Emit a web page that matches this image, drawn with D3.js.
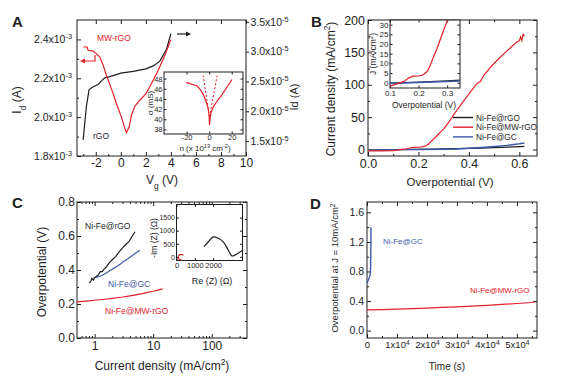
<!DOCTYPE html>
<html>
<head>
<meta charset="utf-8">
<script src="https://cdn.jsdelivr.net/npm/d3@7"></script>
<style>
  body { margin: 0; background: #fff; }
</style>
</head>
<body>
<div id="fig"></div>
<script>
// ---- A: drain current vs gate voltage (rGO on right axis, MW-rGO on left axis)
var aVgRgo = [-3.01, -2.88, -2.75, -2.54, -2.21, -1.81, -1.55, -1.28, -0.88, 0, 0.99, 2.0, 2.59, 3.12, 3.65, 4.0];
var aIdRgo = [1.52e-5, 1.80e-5, 2.08e-5, 2.36e-5, 2.41e-5, 2.45e-5, 2.51e-5, 2.56e-5, 2.58e-5, 2.64e-5, 2.67e-5, 2.71e-5, 2.76e-5, 2.84e-5, 3.04e-5, 3.30e-5];
var aVgMw = [-3.01, -2.69, -2.61, -2.21, -1.95, -1.68, -1.41, -1.15, -0.75, -0.35, 0.05, 0.32, 0.45, 0.67, 0.85, 1.12, 1.52, 2.0, 2.45, 2.99, 3.52, 4.0];
var aIdMw = [2.361e-3, 2.361e-3, 2.344e-3, 2.34e-3, 2.327e-3, 2.309e-3, 2.267e-3, 2.215e-3, 2.147e-3, 2.07e-3, 2.0e-3, 1.942e-3, 1.92e-3, 1.95e-3, 2.01e-3, 2.056e-3, 2.087e-3, 2.12e-3, 2.173e-3, 2.241e-3, 2.318e-3, 2.399e-3];
var aVgTicks = [-2, 0, 2, 4, 6, 8, 10];
var aLeftTicks = [1.8e-3, 2.0e-3, 2.2e-3, 2.4e-3];
var aRightTicks = [1.5e-5, 2.0e-5, 2.5e-5, 3.0e-5, 3.5e-5];
// A inset: conductivity vs carrier density
var aInN = [-20.4, -18.4, -16.9, -14, -10.9, -8, -5.1, -2.7, -0.9, 0, 0.3, 0.9, 1.5, 3.8, 6.8, 11.3, 15.7, 20.2];
var aInSigma = [47.2, 47.1, 47.0, 46.8, 46.6, 45.9, 44.8, 43.5, 42.2, 40.6, 38.9, 40.2, 41.2, 42.5, 43.5, 44.8, 46.3, 47.8];
var aDashLeftN = [0.2, -5.3], aDashLeftS = [40.5, 48.6];
var aDashRightN = [0.4, 7.1], aDashRightS = [40.5, 48.6];
var aInNTicks = [-20, 0, 20];
var aInSTicks = [38, 40, 42, 44, 46, 48];

// ---- B: polarization curves
var bEtaMw = [0, 0.05, 0.1, 0.13, 0.15, 0.165, 0.18, 0.2, 0.215, 0.23, 0.24, 0.25, 0.265, 0.28, 0.29, 0.3, 0.32, 0.34, 0.37, 0.4, 0.43, 0.445, 0.46, 0.49, 0.52, 0.55, 0.57, 0.59, 0.6, 0.605, 0.61, 0.615, 0.62];
var bJMw = [-2.2, -2.1, -1.7, -0.3, 0.8, 2.4, 3.4, 3.5, 4.0, 5.8, 8.6, 12.5, 17.8, 24, 28, 32, 42, 54, 70, 86, 101, 105, 115, 129, 141, 152, 159, 166, 168, 174, 168, 178, 175];
var bEta = [0, 0.1, 0.2, 0.3, 0.35, 0.4, 0.45, 0.5, 0.55, 0.6, 0.62];
var bJRgo = [-1.0, -0.2, 0.4, 1.0, 1.4, 1.8, 2.3, 2.9, 3.6, 4.5, 4.8];
var bJGc = [-1.2, -0.4, 0.1, 0.6, 1.0, 2.0, 3.2, 4.6, 6.4, 8.8, 10.2];
var bEtaTicks = [0, 0.2, 0.4, 0.6];
var bJTicks = [0, 50, 100, 150, 200];
var bInEtaTicks = [0.1, 0.2, 0.3];
var bInJTicks = [0, 5, 10, 15, 20, 25, 30];
var bNames = ['Ni-Fe@rGO', 'Ni-Fe@MW-rGO', 'Ni-Fe@GC'];

// ---- C: Tafel plots
var cJRgo = [0.8, 0.85, 0.9, 0.95, 1.0, 1.05, 1.15, 1.25, 1.35, 1.45, 1.6, 1.8, 2.0, 2.3, 2.6, 3.0, 3.4, 3.9, 4.4, 4.9];
var cEtaRgo = [0.325, 0.33, 0.35, 0.34, 0.355, 0.36, 0.37, 0.39, 0.39, 0.405, 0.42, 0.445, 0.46, 0.48, 0.505, 0.53, 0.55, 0.57, 0.6, 0.625];
var cJGc = [0.95, 1.2, 1.5, 2.0, 2.5, 3.0, 3.6, 4.2, 5.0, 5.9];
var cEtaGc = [0.353, 0.362, 0.378, 0.405, 0.425, 0.445, 0.463, 0.48, 0.498, 0.516];
var cJMw = [0.5, 0.7, 1, 1.5, 2, 3, 4, 5, 6.5, 8, 10, 12, 14.5];
var cEtaMw = [0.213, 0.217, 0.222, 0.228, 0.233, 0.241, 0.248, 0.254, 0.261, 0.268, 0.275, 0.282, 0.289];
var cJTicks = [1, 10, 100];
var cEtaTicks = [0, 0.2, 0.4, 0.6, 0.8];
// C inset: impedance
var cInReRgo = [1500, 1740, 2010, 2280, 2560, 2830, 3020, 3200, 3600];
var cInImRgo = [390, 575, 760, 710, 560, 250, 35, 70, 250];
var cInReMw = [380, 260, 140, 100, 150, 300];
var cInImMw = [60, 95, 60, -20, -90, -130];
var cInReTicks = [0, 1000, 2000];
var cInImTicks = [0, 500, 1000, 1500];

// ---- D: stability at 10 mA/cm2
var dTGc = [0, 200, 400, 600, 800, 1000, 1100, 1200, 1250, 1300, 1330];
var dEtaGc = [0.64, 0.66, 0.68, 0.70, 0.72, 0.75, 0.78, 0.85, 1.0, 1.2, 1.4];
var dTMw = [0, 5000, 10000, 15000, 20000, 25000, 30000, 35000, 40000, 45000, 50000, 55000, 56000];
var dEtaMw = [0.28, 0.285, 0.29, 0.297, 0.305, 0.313, 0.322, 0.331, 0.342, 0.354, 0.367, 0.38, 0.39];
var dTTicks = [0, 1e4, 2e4, 3e4, 4e4, 5e4];
var dEtaTicks = [0, 0.4, 0.8, 1.2, 1.6];

var FONT = '"Liberation Sans", Arial, Helvetica, sans-serif';
var INK = '#1e1e1e', RED = '#e4202a', BLUE = '#3d5aa9';

var svg = d3.select('#fig').append('svg')
    .attr('width', 574)
    .attr('height', 385)
    .attr('font-family', FONT);

var clipCount = 0;
function clip(x0, y0, x1, y1) {
    var id = 'clip' + (clipCount++);
    svg.append('clipPath').attr('id', id).append('rect')
        .attr('x', x0).attr('y', y0).attr('width', x1 - x0).attr('height', y1 - y0);
    return 'url(#' + id + ')';
}

function frame(x0, y0, x1, y1, fill) {
    svg.append('rect')
        .attr('x', x0).attr('y', y0).attr('width', x1 - x0).attr('height', y1 - y0)
        .attr('fill', fill || 'none').attr('stroke', INK).attr('stroke-width', 1);
}

function axis(fn, scale, vals, size, tx, ty, fmt, fs, pad) {
    var ax = fn(scale).tickValues(vals).tickSize(size).tickPadding(pad == null ? 3 : pad)
        .tickFormat(fmt || function () { return ''; });
    var g = svg.append('g').attr('transform', `translate(${tx},${ty})`).call(ax);
    g.select('.domain').remove();
    g.attr('font-family', FONT).attr('font-size', fs || 10);
    g.selectAll('line').attr('stroke', INK);
    g.selectAll('text').attr('fill', INK);
    return g;
}

// turn "2.4" into "2.4x10^-3"
function sci(g, exp) {
    g.selectAll('text').each(function () {
        var t = d3.select(this);
        var m = t.text();
        if (m === '0') return;
        t.text(null);
        t.append('tspan').text(m + 'x10');
        t.append('tspan').attr('baseline-shift', 'super').attr('font-size', '0.7em').text(exp);
    });
}

function rich(x, y, parts, fs, color, anchor, rot, weight) {
    var t = svg.append('text')
        .attr('transform', `translate(${x},${y})` + (rot ? ' rotate(-90)' : ''))
        .attr('font-size', fs).attr('fill', color || INK)
        .attr('text-anchor', anchor || 'start')
        .attr('font-weight', weight || null);
    parts.forEach(function (p) {
        if (typeof p === 'string') t.append('tspan').text(p);
        else t.append('tspan').attr('baseline-shift', p[1] === 'sup' ? 'super' : 'sub')
            .attr('font-size', '0.7em').text(p[0]);
    });
    return t;
}

function curve(xs, ys, sx, sy, color, cp, width, dash, interp) {
    var line = d3.line().x(d => sx(d[0])).y(d => sy(d[1])).curve(interp || d3.curveLinear);
    svg.append('path').datum(d3.zip(xs, ys))
        .attr('d', line)
        .attr('fill', 'none')
        .attr('stroke', color)
        .attr('stroke-width', width || 1.2)
        .attr('stroke-dasharray', dash || null)
        .attr('clip-path', cp || null);
}

// ================= A =================
var xA = d3.scaleLinear().domain([-3.5, 10]).range([77, 246]);
var yAL = d3.scaleLinear().domain([1.8e-3, 2.5e-3]).range([156, 20]);
var yAR = d3.scaleLinear().domain([1.25e-5, 3.53e-5]).range([156, 20]);
var cpA = clip(77, 20, 246, 156);
frame(77, 20, 246, 156);
axis(d3.axisBottom, xA, aVgTicks, -4, 0, 156, d => String(d), 12, 2.5);
axis(d3.axisBottom, xA, [-3, -1, 1, 3, 5, 7, 9], -2, 0, 156);
axis(d3.axisTop, xA, aVgTicks, -4, 0, 20);
sci(axis(d3.axisLeft, yAL, aLeftTicks, -4, 77, 0, d => (d * 1e3).toFixed(1), 10.5, 5), '-3');
axis(d3.axisLeft, yAL, [1.9e-3, 2.1e-3, 2.3e-3], -2, 77, 0);
sci(axis(d3.axisRight, yAR, aRightTicks, 3, 246, 0, d => (d * 1e5).toFixed(1), 10.5, 1.5), '-5');

curve(aVgRgo, aIdRgo, xA, yAR, INK, cpA);
curve(aVgMw, aIdMw, xA, yAL, RED, cpA);

rich(97, 40.5, ['MW-rGO'], 8.5, RED);
rich(93, 139, ['rGO'], 8.5, INK);
svg.append('path').attr('d', 'M95,55V61H84').attr('fill', 'none').attr('stroke', RED).attr('stroke-width', 1.2);
svg.append('path').attr('d', 'M80,61L85,58.5L85,63.5Z').attr('fill', RED);
svg.append('path').attr('d', 'M177,34H187').attr('stroke', INK).attr('stroke-width', 1.2);
svg.append('path').attr('d', 'M191,34L186,31.5L186,36.5Z').attr('fill', INK);

rich(21, 100, ['I', ['d', 'sub'], ' (A)'], 12, INK, 'middle', true);
rich(162, 184, ['V', ['g', 'sub'], ' (V)'], 12, INK, 'middle');
rich(298, 97, ['Id (A)'], 11, INK, 'middle', true);
rich(12, 27, ['A'], 15, INK, 'start', false, 'bold');

// A inset
var xAi = d3.scaleLinear().domain([-40, 30]).range([164, 243]);
var yAi = d3.scaleLinear().domain([37.1, 49.3]).range([134, 72]);
var cpAi = clip(164, 72, 243, 134);
frame(164, 72, 243, 134, '#fff');
axis(d3.axisBottom, xAi, aInNTicks, -2.5, 0, 134, d => String(d), 7.5, 1);
axis(d3.axisTop, xAi, aInNTicks, -2.5, 0, 72);
axis(d3.axisLeft, yAi, aInSTicks, -2.5, 164, 0, d => String(d), 7.5, 1.5);
axis(d3.axisRight, yAi, aInSTicks, -2.5, 243, 0);
curve(aInN, aInSigma, xAi, yAi, RED, cpAi);
curve(aDashLeftN, aDashLeftS, xAi, yAi, RED, cpAi, 1, '2,2');
curve(aDashRightN, aDashRightS, xAi, yAi, RED, cpAi, 1, '2,2');
rich(152.5, 103, ['\u03c3 (mS)'], 8, INK, 'middle', true);
rich(205, 151, ['n (x 10', ['13', 'sup'], ' cm', ['-2', 'sup'], ')'], 8, INK, 'middle');

// ================= B =================
var xB = d3.scaleLinear().domain([0, 0.67]).range([368, 537]);
var yB = d3.scaleLinear().domain([-10, 200]).range([156, 20]);
var cpB = clip(368, 20, 537, 156);
frame(368, 20, 537, 156);
axis(d3.axisBottom, xB, bEtaTicks, -4, 0, 156, d3.format('.1f'), 12.5, 3);
axis(d3.axisBottom, xB, [0.1, 0.3, 0.5], -2, 0, 156);
axis(d3.axisTop, xB, bEtaTicks, -4, 0, 20);
axis(d3.axisTop, xB, [0.1, 0.3, 0.5], -2, 0, 20);
axis(d3.axisLeft, yB, bJTicks, -4, 368, 0, d => String(d), 12.5, 3);
axis(d3.axisLeft, yB, [25, 75, 125, 175], -2, 368, 0);
axis(d3.axisRight, yB, bJTicks, -4, 537, 0);
axis(d3.axisRight, yB, [25, 75, 125, 175], -2, 537, 0);

curve(bEta, bJRgo, xB, yB, INK, cpB);
curve(bEta, bJGc, xB, yB, BLUE, cpB, 1.5);
curve(bEtaMw, bJMw, xB, yB, RED, cpB);

// legend
var legColors = [INK, RED, BLUE];
bNames.forEach(function (name, i) {
    var y = 117.5 + i * 9.7;
    svg.append('line').attr('x1', 453).attr('x2', 473).attr('y1', y).attr('y2', y)
        .attr('stroke', legColors[i]).attr('stroke-width', 1.4);
    rich(476, y + 3, [name], 8.2, INK);
});

rich(335, 89, ['Current density (mA/cm', ['2', 'sup'], ')'], 12, INK, 'middle', true);
rich(450, 186, ['Overpotential (V)'], 11.5, INK, 'middle');
rich(311, 27, ['B'], 15, INK, 'start', false, 'bold');

// B inset
var xBi = d3.scaleLinear().domain([0.1, 0.345]).range([390, 460]);
var yBi = d3.scaleLinear().domain([-2.7, 32.4]).range([88, 20]);
var cpBi = clip(390, 20, 460, 88);
frame(390, 20, 460, 88, '#fff');
axis(d3.axisBottom, xBi, bInEtaTicks, -2.5, 0, 88, d3.format('.1f'), 8, 2);
axis(d3.axisTop, xBi, bInEtaTicks, -2.5, 0, 20);
axis(d3.axisLeft, yBi, bInJTicks, -2.5, 390, 0, d => String(d), 8, 1.5);
axis(d3.axisRight, yBi, bInJTicks, -2.5, 460, 0);
curve(bEta, bJRgo, xBi, yBi, INK, cpBi);
curve(bEta, bJGc, xBi, yBi, BLUE, cpBi, 1.5);
curve(bEtaMw, bJMw, xBi, yBi, RED, cpBi);
rich(376, 54, ['J (mA/cm', ['2', 'sup'], ')'], 8.5, INK, 'middle', true);
rich(424, 108, ['Overpotential (V)'], 8.5, INK, 'middle');

// ================= C =================
var xC = d3.scaleLog().domain([0.5, 400]).range([77, 247]);
var yC = d3.scaleLinear().domain([0, 0.8]).range([338, 202]);
var cpC = clip(77, 202, 247, 338);
var cMinor = [0.6, 0.7, 0.8, 0.9, 2, 3, 4, 5, 6, 7, 8, 9, 20, 30, 40, 50, 60, 70, 80, 90, 200, 300];
frame(77, 202, 247, 338);
axis(d3.axisBottom, xC, cJTicks, -4, 0, 338, d => String(d), 12, 3);
axis(d3.axisBottom, xC, cMinor, -2, 0, 338);
axis(d3.axisTop, xC, cJTicks, -4, 0, 202);
axis(d3.axisTop, xC, cMinor, -2, 0, 202);
axis(d3.axisLeft, yC, cEtaTicks, -4, 77, 0, d3.format('.1f'), 12, 2);
axis(d3.axisLeft, yC, [0.1, 0.3, 0.5, 0.7], -2, 77, 0);
axis(d3.axisRight, yC, cEtaTicks, -4, 247, 0);
axis(d3.axisRight, yC, [0.1, 0.3, 0.5, 0.7], -2, 247, 0);

curve(cJMw, cEtaMw, xC, yC, RED, cpC);
curve(cJGc, cEtaGc, xC, yC, BLUE, cpC, 1.2, null, d3.curveMonotoneX);
curve(cJRgo, cEtaRgo, xC, yC, INK, cpC);

rich(85, 229, ['Ni-Fe@rGO'], 8.5, INK);
rich(108, 287, ['Ni-Fe@GC'], 8.5, BLUE);
rich(105, 314, ['Ni-Fe@MW-rGO'], 8.5, RED);
rich(46, 272, ['Overpotential (V)'], 12, INK, 'middle', true);
rich(162, 370, ['Current density (mA/cm', ['2', 'sup'], ')'], 12, INK, 'middle');
rich(12, 208, ['C'], 15, INK, 'start', false, 'bold');

// C inset
var xCi = d3.scaleLinear().domain([0, 3600]).range([176.5, 242.5]);
var yCi = d3.scaleLinear().domain([-140, 2000]).range([260.5, 204.5]);
var cpCi = clip(176.5, 204.5, 242.5, 260.5);
frame(176.5, 204.5, 242.5, 260.5, '#fff');
axis(d3.axisBottom, xCi, cInReTicks, -2.5, 0, 260.5, d => String(d), 7.5, 2);
axis(d3.axisTop, xCi, cInReTicks, -2.5, 0, 204.5);
axis(d3.axisLeft, yCi, cInImTicks, -2.5, 176.5, 0, d => String(d), 7, 1.5);
axis(d3.axisRight, yCi, cInImTicks, -2.5, 242.5, 0);
curve(cInReRgo, cInImRgo, xCi, yCi, INK, cpCi, 1.2, null, d3.curveCatmullRom);
curve(cInReMw, cInImMw, xCi, yCi, RED, cpCi, 1.2, null, d3.curveCatmullRom);
rich(157, 238, ['-Im (Z) (\u03a9)'], 8.5, INK, 'middle', true);
rich(212, 284, ['Re (Z) (\u03a9)'], 9, INK, 'middle');

// ================= D =================
var xD = d3.scaleLinear().domain([0, 56700]).range([367, 537]);
var yD = d3.scaleLinear().domain([-0.1, 1.74]).range([338, 202]);
var cpD = clip(367, 202, 537, 338);
var dTMinor = [5000, 15000, 25000, 35000, 45000, 55000];
frame(367, 202, 537, 338);
sci(axis(d3.axisBottom, xD, dTTicks, -4, 0, 338, d => String(d / 1e4), 9.5, 3), '4');
axis(d3.axisBottom, xD, dTMinor, -2, 0, 338);
axis(d3.axisTop, xD, dTTicks, -4, 0, 202);
axis(d3.axisTop, xD, dTMinor, -2, 0, 202);
axis(d3.axisLeft, yD, dEtaTicks, -4, 367, 0, d3.format('.1f'), 10.5, 3);
axis(d3.axisLeft, yD, [0.2, 0.6, 1.0, 1.4], -2, 367, 0);
axis(d3.axisRight, yD, dEtaTicks, -4, 537, 0);
axis(d3.axisRight, yD, [0.2, 0.6, 1.0, 1.4], -2, 537, 0);

curve(dTMw, dEtaMw, xD, yD, RED, cpD);
curve(dTGc, dEtaGc, xD, yD, BLUE, cpD, 1.4);

rich(383, 244, ['Ni-Fe@GC'], 8, BLUE);
rich(470, 293, ['Ni-Fe@MW-rGO'], 8, RED);
rich(338, 268, ['Overpotential at J = 10mA/cm', ['2', 'sup']], 9.5, INK, 'middle', true);
rich(447, 370, ['Time (s)'], 10, INK, 'middle');
rich(310, 209, ['D'], 15, INK, 'start', false, 'bold');
</script>
</body>
</html>
